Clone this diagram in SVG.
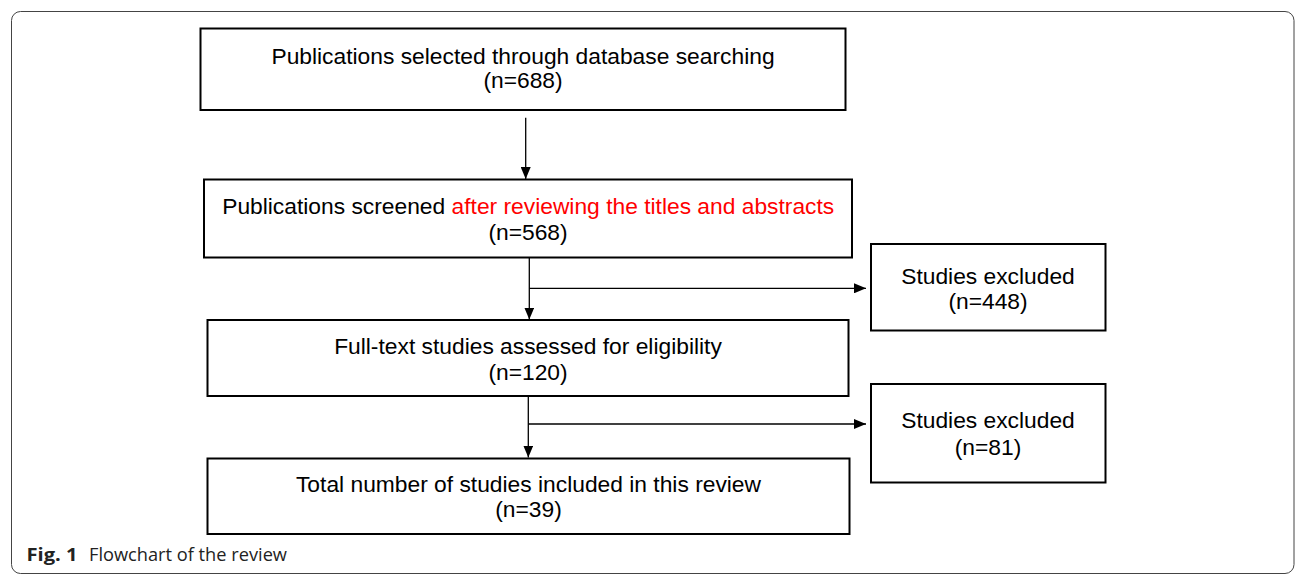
<svg xmlns="http://www.w3.org/2000/svg" width="1296" height="575" viewBox="0 0 1296 575">
<style>
.box{fill:#fff;stroke:#000;stroke-width:2}
.t{font-family:"Liberation Sans",Arial,sans-serif;font-size:22.8px;fill:#000;text-anchor:middle}
.red{fill:#ff0000}
.c{stroke:#000;stroke-width:1.3;fill:none}
.cap{font-family:"Open Sans","Noto Sans",sans-serif;font-size:17.5px;fill:#222}
</style>
<defs>
<marker id="ah" markerWidth="12" markerHeight="10" refX="12" refY="5" orient="auto" markerUnits="userSpaceOnUse">
<path d="M0,0 L12,5 L0,10 Z" fill="#000"/>
</marker>
</defs>
<rect x="11.5" y="11.5" width="1282.5" height="562" rx="9" fill="#fff" stroke="#444" stroke-width="1"/>
<g id="connectors">
<line class="c" x1="525.7" y1="117.7" x2="525.7" y2="179" marker-end="url(#ah)"/>
<line class="c" x1="529.3" y1="258" x2="529.3" y2="319.5" marker-end="url(#ah)"/>
<line class="c" x1="529.3" y1="288.3" x2="866" y2="288.3" marker-end="url(#ah)"/>
<line class="c" x1="528.3" y1="396.5" x2="528.3" y2="457.5" marker-end="url(#ah)"/>
<line class="c" x1="528.3" y1="424" x2="866" y2="424" marker-end="url(#ah)"/>
</g>
<g id="n1">
<rect class="box" x="200.5" y="28.5" width="645" height="81.5"/>
<text class="t" x="523" y="64.3">Publications selected through database searching</text>
<text class="t" x="523" y="88">(n=688)</text>
</g>
<g id="n2">
<rect class="box" x="204" y="179.5" width="648" height="78"/>
<text class="t" x="528.2" y="214">Publications screened <tspan class="red">after reviewing the titles and abstracts</tspan></text>
<text class="t" x="528" y="240">(n=568)</text>
</g>
<g id="n3">
<rect class="box" x="207.5" y="320" width="641" height="76"/>
<text class="t" x="528" y="353.5">Full-text studies assessed for eligibility</text>
<text class="t" x="528" y="379.5">(n=120)</text>
</g>
<g id="n4">
<rect class="box" x="207.5" y="458.5" width="642" height="75.5"/>
<text class="t" x="528.5" y="492">Total number of studies included in this review</text>
<text class="t" x="528.5" y="517">(n=39)</text>
</g>
<g id="r1">
<rect class="box" x="871" y="244" width="234.5" height="86.5"/>
<text class="t" x="988" y="284">Studies excluded</text>
<text class="t" x="988" y="308.5">(n=448)</text>
</g>
<g id="r2">
<rect class="box" x="871" y="384" width="234.5" height="98.5"/>
<text class="t" x="988" y="427.5">Studies excluded</text>
<text class="t" x="988" y="454.5">(n=81)</text>
</g>
<g id="caption">
<text class="cap" x="26.5" y="561" font-weight="bold" textLength="51" lengthAdjust="spacingAndGlyphs">Fig. 1</text>
<text class="cap" x="89" y="561" textLength="198" lengthAdjust="spacingAndGlyphs">Flowchart of the review</text>
</g>
</svg>
